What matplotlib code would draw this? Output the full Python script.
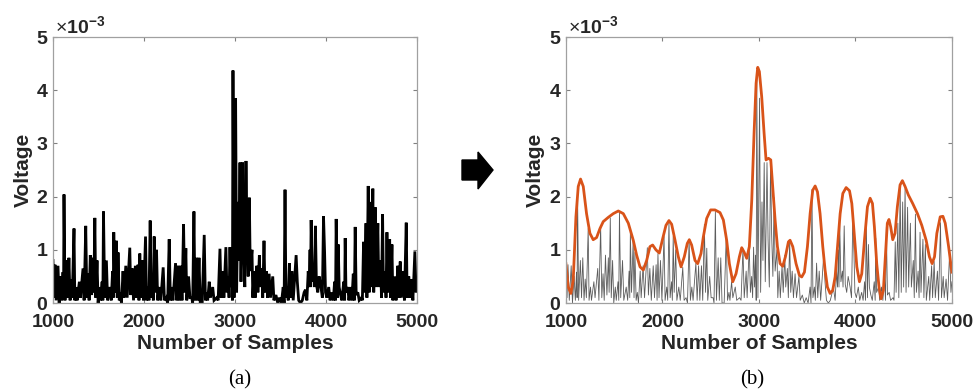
import matplotlib
matplotlib.use("Agg")
import matplotlib.pyplot as plt
from matplotlib.patches import Polygon

plt.rcParams['font.family'] = ['Liberation Sans', 'DejaVu Sans']
plt.rcParams['mathtext.fontset'] = 'custom'
plt.rcParams['mathtext.rm'] = 'Liberation Sans'
plt.rcParams['mathtext.bf'] = 'Liberation Sans:bold'

# ---------------- data ----------------
samples_raw = [
    1000, 1012, 1022, 1035, 1055, 1068, 1085, 1098, 1110, 1116, 1121, 1132, 1150, 1162, 1175, 1188,
    1200, 1212, 1231, 1240, 1255, 1265, 1290, 1302, 1330, 1342, 1360, 1372, 1385, 1397, 1410, 1425,
    1440, 1448, 1460, 1470, 1484, 1496, 1512, 1522, 1540, 1548, 1555, 1568, 1587, 1600, 1625, 1640,
    1655, 1662, 1668, 1680, 1697, 1706, 1715, 1728, 1740, 1752, 1770, 1780, 1800, 1815, 1844, 1855,
    1870, 1885, 1905, 1918, 1935, 1945, 1954, 1965, 1980, 1995, 2017, 2028, 2045, 2055, 2068, 2080,
    2095, 2103, 2112, 2122, 2138, 2150, 2170, 2185, 2211, 2225, 2245, 2260, 2277, 2290, 2305, 2318,
    2347, 2360, 2375, 2388, 2405, 2418, 2435, 2447, 2460, 2470, 2490, 2505, 2525, 2535, 2549, 2560,
    2578, 2590, 2605, 2618, 2640, 2662, 2675, 2690, 2700, 2717, 2730, 2755, 2770, 2800, 2815, 2835,
    2848, 2868, 2878, 2900, 2912, 2925, 2935, 2945, 2955, 2965, 2972, 2978, 2990, 3007, 3018, 3032,
    3042, 3055, 3066, 3084, 3095, 3108, 3121, 3132, 3145, 3158, 3168, 3187, 3196, 3210, 3222, 3240,
    3252, 3268, 3278, 3295, 3305, 3319, 3330, 3345, 3358, 3375, 3390, 3415, 3428, 3450, 3470, 3490,
    3510, 3530, 3540, 3550, 3560, 3575, 3585, 3598, 3610, 3625, 3640, 3672, 3685, 3700, 3720, 3740,
    3760, 3775, 3790, 3805, 3815, 3825, 3830, 3837, 3850, 3865, 3872, 3884, 3895, 3910, 3925, 3945,
    3960, 3973, 3985, 3995, 4010, 4030, 4045, 4065, 4080, 4095, 4105, 4112, 4125, 4135, 4145, 4160,
    4175, 4195, 4205, 4211, 4220, 4240, 4252, 4270, 4285, 4300, 4312, 4321, 4332, 4350, 4365, 4390,
    4400, 4413, 4422, 4440, 4450, 4464, 4475, 4490, 4500, 4515, 4525, 4541, 4552, 4570, 4580, 4600,
    4610, 4622, 4632, 4650, 4660, 4670, 4680, 4700, 4710, 4725, 4735, 4760, 4770, 4790, 4800, 4816,
    4828, 4850, 4862, 4882, 4892, 4910, 4920, 4940, 4955, 4977, 4990, 5000,
]
voltage_raw = [  # x 1e-3
    0.80, 0.10, 0.72, 0.05, 0.70, 0.00, 0.50, 0.05, 0.58, 0.10, 2.04, 0.05, 0.80, 0.10, 0.85, 0.05,
    0.45, 0.10, 1.40, 0.05, 0.30, 0.05, 0.40, 0.10, 0.65, 0.05, 1.45, 0.10, 0.55, 0.05, 0.90, 0.15,
    0.85, 0.20, 1.60, 0.10, 0.80, 0.00, 0.30, 0.05, 0.40, 0.05, 1.72, 0.10, 0.80, 0.05, 0.30, 0.05,
    0.60, 0.10, 1.33, 0.20, 1.17, 0.10, 0.95, 0.05, 0.20, 0.00, 0.60, 0.10, 0.70, 0.10, 1.04, 0.15,
    0.65, 0.05, 0.70, 0.10, 0.72, 0.05, 0.93, 0.10, 0.80, 0.05, 1.25, 0.05, 0.30, 0.05, 1.55, 0.10,
    0.40, 0.05, 1.25, 0.20, 1.00, 0.05, 0.30, 0.05, 0.67, 0.05, 0.10, 0.00, 1.20, 0.05, 0.30, 0.05,
    0.75, 0.05, 0.70, 0.05, 0.70, 0.05, 1.48, 0.20, 1.03, 0.05, 0.50, 0.10, 0.10, 0.00, 1.72, 0.05,
    0.85, 0.05, 0.85, 0.00, 0.00, 1.28, 0.05, 0.20, 0.05, 0.40, 0.10, 0.30, 0.05, 0.10, 0.05, 1.02,
    0.10, 0.60, 0.10, 1.05, 0.20, 0.50, 0.10, 1.05, 0.30, 0.90, 0.05, 4.37, 0.10, 3.85, 0.20, 1.90,
    0.80, 2.64, 0.40, 2.64, 1.20, 0.30, 2.67, 1.30, 0.50, 1.98, 0.60, 1.00, 0.10, 0.60, 0.10, 0.70,
    0.20, 0.90, 0.30, 0.65, 0.10, 1.17, 0.20, 0.60, 0.10, 0.55, 0.10, 0.50, 0.05, 0.15, 0.00, 0.10,
    0.00, 0.30, 0.00, 2.13, 0.10, 0.30, 0.05, 0.75, 0.10, 0.60, 0.05, 0.90, 0.40, 0.05, 0.00, 0.05,
    0.20, 0.25, 0.05, 0.60, 0.30, 1.00, 0.30, 1.56, 0.40, 0.60, 0.30, 1.45, 0.35, 0.20, 0.50, 0.30,
    0.10, 1.63, 0.95, 0.20, 0.10, 0.30, 0.05, 0.20, 0.05, 0.40, 0.05, 1.58, 0.10, 1.10, 0.30, 0.15,
    0.05, 0.40, 0.05, 1.22, 0.20, 0.30, 0.05, 0.30, 0.05, 0.55, 0.05, 1.43, 0.15, 0.20, 0.05, 0.10,
    0.05, 1.15, 0.20, 1.50, 0.10, 2.20, 0.20, 1.90, 0.30, 2.15, 0.20, 1.80, 0.30, 1.50, 0.30, 0.80,
    0.10, 1.67, 0.20, 0.60, 0.10, 1.33, 0.20, 1.20, 0.10, 1.10, 0.05, 0.50, 0.05, 0.70, 0.10, 0.78,
    0.10, 0.60, 0.05, 1.51, 0.10, 0.50, 0.10, 0.45, 0.05, 0.97, 0.20, 0.40,
]

samples_env = [
    1000, 1024, 1052, 1076, 1104, 1128, 1152, 1180, 1214, 1249, 1283, 1318, 1353, 1387, 1439, 1491,
    1543, 1595, 1647, 1698, 1733, 1768, 1802, 1837, 1871, 1899, 1933, 1968, 2003, 2037, 2068, 2096,
    2131, 2165, 2193, 2227, 2258, 2279, 2303, 2338, 2366, 2400, 2424, 2459, 2500, 2545, 2597, 2632,
    2666, 2694, 2729, 2763, 2798, 2822, 2846, 2874, 2901, 2926, 2950, 2971, 2988, 3005, 3029, 3054,
    3074, 3099, 3123, 3143, 3168, 3192, 3220, 3247, 3275, 3306, 3323, 3351, 3385, 3420, 3444, 3472,
    3503, 3531, 3558, 3583, 3607, 3634, 3662, 3686, 3710, 3738, 3765, 3790, 3818, 3842, 3870, 3904,
    3939, 3963, 3987, 4015, 4042, 4066, 4094, 4125, 4153, 4177, 4197, 4221, 4245, 4266, 4290, 4314,
    4331, 4348, 4366, 4387, 4411, 4435, 4463, 4487, 4515, 4549, 4594, 4643, 4688, 4733, 4767, 4795,
    4820, 4844, 4879, 4907, 4931, 4966, 5000,
]
voltage_env = [  # x 1e-3
    0.74, 0.30, 0.18, 0.43, 1.62, 2.19, 2.33, 2.19, 1.68, 1.31, 1.19, 1.23, 1.40, 1.53, 1.61, 1.68,
    1.73, 1.68, 1.50, 1.18, 0.90, 0.68, 0.62, 0.80, 1.06, 1.09, 1.00, 0.94, 1.21, 1.46, 1.55, 1.48,
    1.18, 0.87, 0.68, 0.87, 1.12, 1.19, 1.09, 0.80, 0.74, 0.93, 1.24, 1.59, 1.75, 1.75, 1.70, 1.56,
    1.18, 0.74, 0.40, 0.55, 0.87, 1.04, 0.96, 0.84, 1.06, 1.93, 3.19, 4.13, 4.43, 4.35, 3.88, 3.19,
    2.69, 2.72, 2.69, 2.19, 1.56, 1.06, 0.74, 0.69, 0.87, 1.15, 1.18, 1.06, 0.74, 0.52, 0.49, 0.58,
    1.06, 1.68, 2.12, 2.20, 2.09, 1.68, 1.06, 0.62, 0.30, 0.18, 0.24, 0.49, 1.12, 1.68, 2.06, 2.17,
    2.11, 1.87, 1.31, 0.68, 0.40, 0.55, 1.18, 1.81, 1.97, 1.87, 1.43, 0.74, 0.30, 0.08, 0.24, 0.99,
    1.50, 1.57, 1.43, 1.19, 1.31, 1.81, 2.22, 2.30, 2.19, 2.03, 1.87, 1.68, 1.46, 1.18, 0.87, 0.74,
    0.87, 1.31, 1.62, 1.63, 1.50, 1.06, 0.58,
]

x_ticks = [1000, 2000, 3000, 4000, 5000]
y_ticks = [0, 1, 2, 3, 4, 5]

# ---------------- figure ----------------
fig = plt.figure(figsize=(9.74, 3.92), dpi=100)
ax_a = fig.add_axes([0.0544, 0.227, 0.3737, 0.6786])
ax_b = fig.add_axes([0.581, 0.227, 0.3963, 0.6786])

ax_a.plot(samples_raw, voltage_raw, color='black', lw=2.0, solid_joinstyle='miter')
ax_b.plot(samples_raw, voltage_raw, color='#4a4a4a', lw=0.6, alpha=0.9)
ax_b.plot(samples_env, voltage_env, color='#D95319', lw=2.0)

for ax in (ax_a, ax_b):
    ax.set_xlim(1000, 5000)
    ax.set_ylim(0, 5)
    ax.set_xticks(x_ticks)
    ax.set_yticks(y_ticks)
    ax.tick_params(direction='in', top=True, right=True, length=3, width=0.8,
                   color='#808080', labelcolor='#262626', labelsize=14)
    ax.tick_params(axis='x', pad=8)
    ax.tick_params(axis='y', pad=4)
    for lab in ax.get_xticklabels() + ax.get_yticklabels():
        lab.set_fontweight('bold')
    for sp in ax.spines.values():
        sp.set_color('#a0a0a0')
        sp.set_linewidth(0.9)
    ax.set_xlabel('Number of Samples', fontsize=15, fontweight='bold', color='#262626', labelpad=2)
    ax.set_ylabel('Voltage', fontsize=15, fontweight='bold', color='#262626', labelpad=3)
    ax.text(0.005, 1.0, r'$\times\mathbf{10^{-3}}$', transform=ax.transAxes,
            fontsize=14, color='#262626', ha='left', va='bottom')

fig.text(240 / 974, 1 - 380 / 392, '(a)', family='Liberation Serif', fontsize=15, ha='center', va='center')
fig.text(752 / 974, 1 - 380 / 392, '(b)', family='Liberation Serif', fontsize=15, ha='center', va='center')

# block arrow between the panels (pixel coordinates converted to figure fractions)
W, H = 974.0, 392.0
arrow_px = [(462, 160), (478, 160), (478, 152), (493, 170), (478, 189), (478, 180), (462, 180)]
arrow = Polygon([(px / W, 1 - py / H) for px, py in arrow_px], closed=True,
                transform=fig.transFigure, facecolor='black', edgecolor='black')
fig.patches.append(arrow)

fig.savefig('out.png', dpi=100)
